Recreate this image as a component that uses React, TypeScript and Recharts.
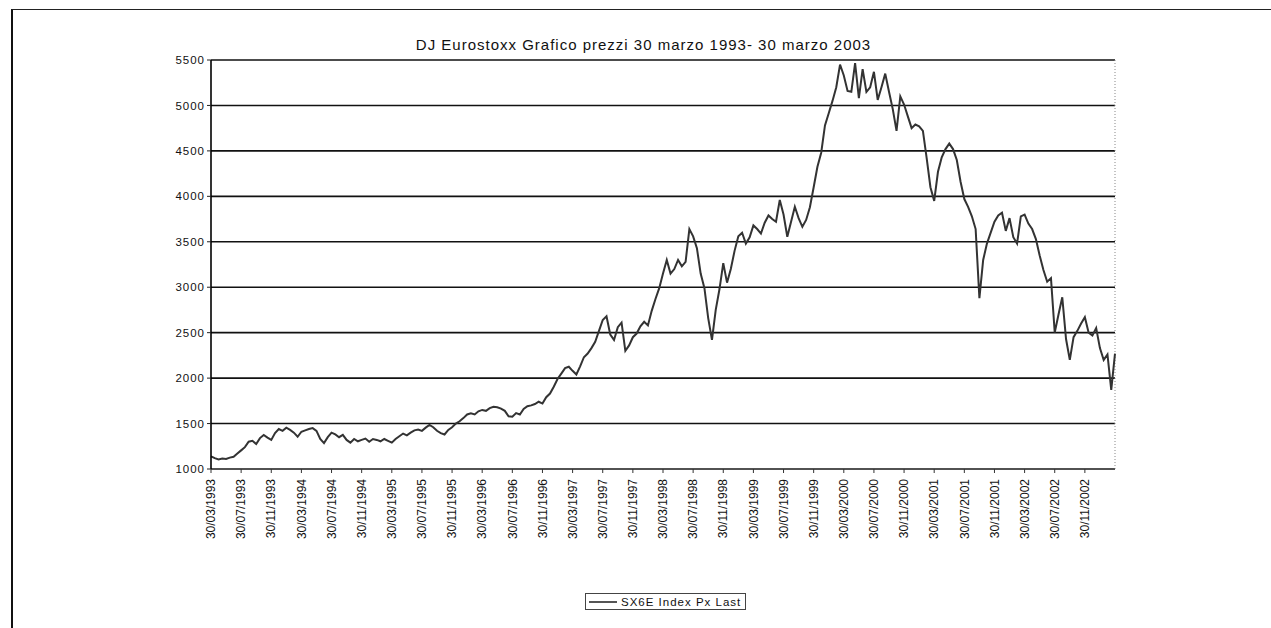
import React from 'react'
import { LineChart, Line, XAxis, YAxis, CartesianGrid, ReferenceLine } from 'recharts'

// semi-monthly closes, 30/03/1993 .. 30/03/2003
const prices = [
  1140, 1120, 1105, 1115, 1110, 1125, 1135, 1170, 1205, 1240,
  1300, 1310, 1275, 1340, 1375, 1345, 1320, 1395, 1440, 1420,
  1455, 1430, 1400, 1355, 1410, 1425, 1440, 1450, 1420, 1330,
  1285, 1350, 1400, 1380, 1350, 1375, 1320, 1290, 1330, 1305,
  1320, 1335, 1300, 1330, 1320, 1305, 1330, 1310, 1290, 1330,
  1360, 1390, 1370, 1400, 1425, 1435, 1420, 1455, 1485, 1460,
  1420, 1395, 1380, 1430, 1460, 1500, 1525, 1560, 1600, 1612,
  1600, 1635, 1650, 1640, 1670, 1685, 1680, 1665, 1640, 1580,
  1575, 1615, 1600, 1660, 1690, 1700, 1715, 1740, 1720, 1790,
  1830, 1905, 1990, 2050, 2110, 2125, 2080, 2040, 2130, 2230,
  2270, 2330, 2400, 2520, 2640, 2680, 2480, 2420, 2560, 2610,
  2300, 2360, 2450, 2490, 2570, 2620, 2580, 2740, 2870, 2990,
  3150, 3300, 3150, 3200, 3300, 3230, 3280, 3640, 3560, 3430,
  3150, 2990, 2660, 2420, 2750, 2980, 3265, 3050, 3200, 3400,
  3560, 3600, 3480, 3550, 3680, 3640, 3590, 3710, 3790, 3750,
  3720, 3960, 3800, 3555, 3720, 3885, 3760, 3665, 3740, 3880,
  4100, 4325, 4480, 4780, 4915, 5050, 5200, 5450, 5330, 5160,
  5150, 5465, 5080, 5400, 5150, 5200, 5370, 5060, 5200, 5350,
  5150, 4960, 4720, 5100, 5010, 4880, 4750, 4790, 4770, 4720,
  4420, 4100, 3950, 4270, 4430, 4520, 4580, 4520, 4400, 4160,
  3970, 3885, 3780, 3640, 2880, 3300, 3480, 3600, 3720, 3790,
  3820, 3620, 3760, 3550, 3480, 3780, 3800, 3700, 3640, 3530,
  3350, 3190, 3060, 3100, 2500, 2700, 2890, 2430, 2200, 2450,
  2520, 2600, 2670, 2500, 2470, 2550, 2330, 2200, 2260, 1870,
  2270,
]

const tickDates = [
  '30/03/1993', '30/07/1993', '30/11/1993',
  '30/03/1994', '30/07/1994', '30/11/1994',
  '30/03/1995', '30/07/1995', '30/11/1995',
  '30/03/1996', '30/07/1996', '30/11/1996',
  '30/03/1997', '30/07/1997', '30/11/1997',
  '30/03/1998', '30/07/1998', '30/11/1998',
  '30/03/1999', '30/07/1999', '30/11/1999',
  '30/03/2000', '30/07/2000', '30/11/2000',
  '30/03/2001', '30/07/2001', '30/11/2001',
  '30/03/2002', '30/07/2002', '30/11/2002',
]

const yTicks = [1000, 1500, 2000, 2500, 3000, 3500, 4000, 4500, 5000, 5500]

const pad = (n: number) => (n < 10 ? '0' + n : String(n))

// dates: 30th of each month and 15th in between
function buildDates(count: number) {
  const out: string[] = []
  let month = 3
  let year = 1993
  for (let i = 0; i < count; i++) {
    if (i % 2 === 0) {
      out.push((month === 2 ? '28' : '30') + '/' + pad(month) + '/' + year)
    } else {
      month++
      if (month > 12) {
        month = 1
        year++
      }
      out.push('15/' + pad(month) + '/' + year)
    }
  }
  return out
}

const dates = buildDates(prices.length)
const data = prices.map((v, i) => ({ date: dates[i], px: v }))

const FONT = '"Liberation Sans", Arial, sans-serif'

function DateTick(props: any) {
  const { x, y, payload } = props
  return (
    <text
      x={x}
      y={y + 4}
      transform={`rotate(-90, ${x}, ${y + 4})`}
      textAnchor="end"
      dy="0.35em"
      fontSize={12}
      fill="#111"
    >
      {payload.value}
    </text>
  )
}

export default function App() {
  return (
    <div style={{ position: 'absolute', left: 0, top: 0, width: 1271, height: 628, background: '#fff', fontFamily: FONT, overflow: 'hidden' }}>
      <div style={{ position: 'absolute', left: 11, top: 9, width: 1260, height: 619, borderLeft: '2px solid #111', borderTop: '1px solid #222' }} />
      <div style={{ position: 'absolute', left: 8, top: 36, width: 1271, textAlign: 'center', fontSize: 15, letterSpacing: 1, color: '#111' }}>
        DJ Eurostoxx Grafico prezzi 30 marzo 1993- 30 marzo 2003
      </div>
      <div style={{ position: 'absolute', left: 0, top: 0 }}>
        <LineChart width={1271} height={628} data={data} margin={{ top: 60, right: 156, left: 151, bottom: 79 }}>
          <CartesianGrid vertical={false} stroke="#111" strokeWidth={1.6} />
          <XAxis
            dataKey="date"
            ticks={tickDates}
            interval={0}
            height={80}
            tick={<DateTick />}
            tickSize={4}
            tickLine={{ stroke: '#333' }}
            axisLine={{ stroke: '#555', strokeWidth: 1.5 }}
          />
          <YAxis
            domain={[1000, 5500]}
            ticks={yTicks}
            interval={0}
            width={60}
            tickSize={4}
            tickMargin={2}
            tick={{ fill: '#111', fontSize: 11.5, letterSpacing: 1 }}
            tickLine={{ stroke: '#222' }}
            axisLine={{ stroke: '#000', strokeWidth: 1.6 }}
          />
          <ReferenceLine x={dates[dates.length - 1]} stroke="#888" strokeDasharray="1 2" />
          <Line type="linear" dataKey="px" name="SX6E Index Px Last" stroke="#333" strokeWidth={2} dot={false} isAnimationActive={false} />
        </LineChart>
      </div>
      <div style={{ position: 'absolute', left: 585, top: 593, width: 159, height: 15, border: '1px solid #444', display: 'flex', alignItems: 'center', fontSize: 11.5, letterSpacing: 1, color: '#111', whiteSpace: 'nowrap' }}>
        <span style={{ display: 'inline-block', width: 28, height: 0, borderTop: '2px solid #555', margin: '0 4px 0 3px' }} />
        SX6E Index Px Last
      </div>
    </div>
  )
}
